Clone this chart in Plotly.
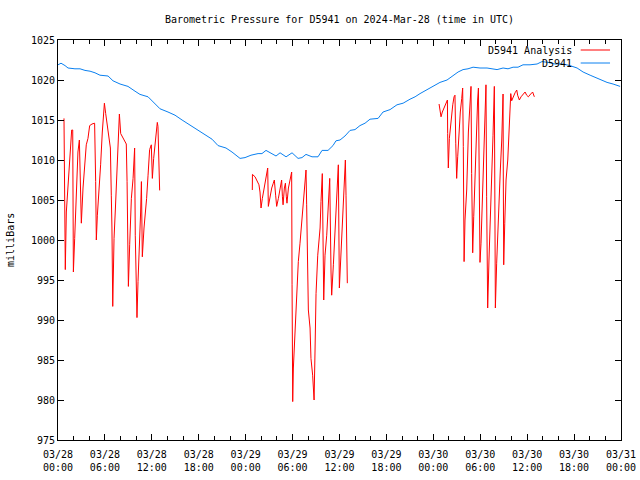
import pandas as pd
import plotly.graph_objects as go

START = "2024-03-28 00:00"

# D5941 (observed) pressure: minutes since start, millibars
obs_minutes = [0, 23, 54, 77, 130, 169, 207, 246, 284, 322, 384, 422, 476, 537, 591, 629,
               691, 744, 783, 844, 898, 952, 998, 1051, 1089, 1128, 1182, 1228, 1289, 1335,
               1397, 1435, 1481, 1535, 1565, 1596, 1635, 1673, 1704, 1750, 1796, 1842, 1872,
               1903, 1949, 1995, 2026, 2072, 2110, 2133, 2164, 2202, 2241, 2279, 2317, 2356,
               2394, 2456, 2494, 2548, 2601, 2648, 2701, 2740, 2778, 2824, 2878, 2931, 2985,
               3031, 3070, 3108, 3146, 3185, 3238, 3292, 3331, 3369, 3415, 3453, 3492, 3530,
               3568, 3622, 3676, 3714, 3760, 3814, 3875, 3929, 3983, 4029, 4083, 4136, 4175,
               4213, 4259, 4313]
obs_values = [1021.9, 1022.1, 1021.8, 1021.5, 1021.4, 1021.4, 1021.2, 1021.1, 1020.9, 1020.6,
              1020.5, 1019.9, 1019.5, 1019.2, 1018.6, 1018.2, 1017.9, 1017.0, 1016.4, 1016.0,
              1015.6, 1015.0, 1014.5, 1014.0, 1013.6, 1013.1, 1012.6, 1011.8, 1011.5, 1011.0,
              1010.2, 1010.3, 1010.6, 1010.8, 1010.8, 1011.2, 1010.8, 1010.5, 1010.9, 1010.4,
              1010.9, 1010.2, 1010.3, 1010.7, 1010.4, 1010.4, 1011.2, 1011.2, 1011.8, 1012.4,
              1012.5, 1013.0, 1013.7, 1013.8, 1014.3, 1014.6, 1015.1, 1015.2, 1016.0, 1016.3,
              1016.9, 1017.1, 1017.6, 1017.9, 1018.3, 1018.7, 1019.2, 1019.7, 1020.0, 1020.5,
              1021.0, 1021.3, 1021.4, 1021.6, 1021.5, 1021.5, 1021.4, 1021.3, 1021.5, 1021.4,
              1021.6, 1021.6, 1021.9, 1021.9, 1022.0, 1022.3, 1022.2, 1022.0, 1022.0, 1021.8,
              1021.5, 1021.0, 1020.6, 1020.2, 1019.9, 1019.7, 1019.5, 1019.2]

# D5941 Analysis, three segments: minutes since start, millibars
ana1_minutes = [46, 51, 56, 64, 77, 90, 97, 105, 113, 118, 128, 141, 153, 164, 174, 179, 192,
                205, 217, 230, 243, 261, 281, 289, 294, 302, 312, 327, 340, 350, 356, 366, 379,
                391, 402, 409, 414, 420, 430, 440, 450, 460, 468, 471, 481, 499, 524, 530, 535,
                540, 550, 563, 576, 583, 588, 593, 601, 606, 614, 622, 634, 640, 647, 660, 670,
                680, 691, 703, 716, 724, 734, 742, 749, 757, 762, 767, 775, 780]
ana1_values = [1015.2, 1005.8, 996.3, 1003.5, 1006.5, 1009.4, 1012.3, 1013.75, 1013.75, 996.0,
               1000.2, 1005.6, 1011.0, 1012.5, 1005.2, 1002.1, 1006.5, 1009.8, 1011.9, 1012.7,
               1014.3, 1014.5, 1014.6, 1007.3, 1000.0, 1003.1, 1005.2, 1009.4, 1013.5, 1015.6,
               1017.1, 1015.8, 1014.0, 1012.9, 1011.5, 1005.6, 1001.5, 991.7, 1000.2, 1003.75,
               1007.7, 1010.6, 1014.0, 1015.75, 1013.3, 1012.7, 1012.0, 1007.3, 998.75, 994.2,
               999.4, 1005.2, 1007.7, 1010.2, 1011.5, 1000.6, 995.6, 990.3, 994.8, 997.7,
               1003.5, 1007.3, 997.9, 1001.5, 1003.1, 1005.2, 1008.1, 1011.3, 1011.9, 1007.7,
               1010.2, 1011.5, 1012.7, 1014.2, 1014.7, 1014.2, 1010.2, 1006.2]

ana2_minutes = [1491, 1492, 1512, 1532, 1542, 1550, 1558, 1568, 1578, 1594, 1601, 1609, 1614,
                1627, 1640, 1652, 1660, 1670, 1678, 1691, 1704, 1716, 1722, 1727, 1737, 1745,
                1752, 1757, 1768, 1778, 1788, 1793, 1796, 1801, 1806, 1814, 1819, 1826, 1834,
                1844, 1857, 1870, 1883, 1895, 1903, 1908, 1913, 1921, 1934, 1941, 1954, 1965,
                1972, 1980, 1993, 2011, 2018, 2028, 2039, 2049, 2062, 2075, 2085, 2095, 2100,
                2113, 2126, 2138, 2151, 2159, 2172, 2184, 2197, 2205, 2210, 2215, 2220]
ana2_values = [1006.25, 1008.2, 1007.9, 1007.3, 1006.9, 1006.0, 1004.0, 1005.2, 1006.25, 1007.7,
               1008.5, 1009.0, 1004.2, 1005.4, 1006.5, 1007.1, 1007.5, 1005.6, 1004.2, 1005.2,
               1006.5, 1007.5, 1005.4, 1004.4, 1006.5, 1007.1, 1005.4, 1004.6, 1006.5, 1007.5,
               1008.3, 1008.5, 994.4, 979.8, 984.0, 986.9, 989.6, 992.5, 995.2, 997.3, 999.6,
               1002.3, 1004.4, 1006.5, 1008.75, 1004.4, 996.5, 991.25, 989.0, 985.2, 983.1,
               980.0, 986.0, 993.3, 998.1, 1001.5, 1004.8, 1008.3, 992.5, 998.1, 1000.6, 1004.4,
               1007.7, 996.0, 993.1, 996.9, 1001.0, 1005.6, 1009.4, 994.0, 998.5, 1002.3,
               1006.0, 1010.0, 1005.6, 998.1, 994.6]

ana3_minutes = [2924, 2931, 2939, 2949, 2965, 2977, 2988, 2990, 2995, 3003, 3016, 3029, 3039,
                3046, 3052, 3059, 3067, 3077, 3087, 3098, 3105, 3110, 3116, 3123, 3136, 3149,
                3159, 3169, 3174, 3182, 3190, 3200, 3210, 3220, 3226, 3233, 3238, 3246, 3256,
                3266, 3277, 3284, 3289, 3297, 3307, 3318, 3328, 3338, 3348, 3353, 3356, 3366,
                3374, 3387, 3394, 3405, 3415, 3417, 3420, 3428, 3438, 3451, 3461, 3469, 3474,
                3481, 3494, 3507, 3520, 3527, 3540, 3553, 3571, 3584, 3596, 3609, 3627, 3642,
                3655]
ana3_values = [1017.0, 1016.25, 1015.4, 1016.0, 1016.7, 1017.1, 1017.5, 1013.3, 1009.0, 1012.7,
               1015.0, 1016.9, 1017.9, 1018.1, 1012.1, 1007.7, 1010.4, 1014.2, 1016.0, 1017.7,
               1019.0, 1011.7, 997.3, 1002.5, 1006.25, 1013.5, 1017.3, 1019.2, 1008.3, 998.4,
               1002.9, 1008.3, 1013.75, 1017.5, 1019.0, 1008.3, 997.2, 999.6, 1004.2, 1010.0,
               1015.0, 1019.4, 1005.4, 991.5, 997.5, 1002.5, 1009.2, 1013.1, 1019.2, 1005.4,
               991.5, 997.1, 1001.0, 1005.0, 1008.75, 1012.5, 1018.25, 1007.5, 996.9, 1002.1,
               1007.5, 1010.0, 1013.75, 1016.9, 1018.3, 1017.4, 1018.0, 1018.4, 1018.75, 1018.1,
               1017.5, 1017.9, 1018.25, 1018.5, 1018.1, 1017.9, 1018.25, 1018.5, 1017.9]

y_ticks = [975, 980, 985, 990, 995, 1000, 1005, 1010, 1015, 1020, 1025]

t0 = pd.Timestamp(START)


def to_time(mins):
    return [t0 + pd.Timedelta(minutes=m) for m in mins]


ana_x, ana_y = [], []
for mins, vals in [(ana1_minutes, ana1_values), (ana2_minutes, ana2_values),
                   (ana3_minutes, ana3_values)]:
    ana_x += to_time(mins) + [None]
    ana_y += vals + [None]

FONT = "DejaVu Sans Mono"
RED = "#ff0000"
BLUE = "#0a80f0"

fig = go.Figure()
fig.add_trace(go.Scatter(x=to_time(obs_minutes), y=obs_values, mode="lines",
                         line=dict(color=BLUE, width=1), name="D5941"))
fig.add_trace(go.Scatter(x=ana_x, y=ana_y, mode="lines", connectgaps=False,
                         line=dict(color=RED, width=1), name="D5941 Analysis"))

# legend (gnuplot style: text right, sample line after it)
for label, color, yp in [("D5941 Analysis", RED, 0.975), ("D5941", BLUE, 0.9425)]:
    fig.add_annotation(x=0.9174, y=yp, xref="paper", yref="paper", text=label,
                       showarrow=False, xanchor="right", yanchor="middle",
                       font=dict(family=FONT, size=10, color="black"))
    fig.add_shape(type="line", xref="paper", yref="paper", x0=0.9284, x1=0.9805,
                  y0=yp, y1=yp, line=dict(color=color, width=1))

fig.add_annotation(x=-0.0853, y=0.5, xref="paper", yref="paper", text="milliBars",
                   showarrow=False, textangle=-90, xanchor="center", yanchor="middle",
                   font=dict(family=FONT, size=10, color="black"))

fig.update_layout(
    width=640, height=480,
    margin=dict(l=58, r=19, t=40, b=40, pad=0, autoexpand=False),
    paper_bgcolor="white", plot_bgcolor="white",
    showlegend=False,
    font=dict(family=FONT, size=10, color="black"),
    title=dict(text="Barometric Pressure for D5941 on 2024-Mar-28 (time in UTC)",
               x=0.5, xref="paper", xanchor="center", y=0.9604, yanchor="middle",
               font=dict(family=FONT, size=10, color="black")),
    xaxis=dict(
        type="date", range=["2024-03-28 00:00", "2024-03-31 00:00"],
        tick0="2024-03-28 00:00", dtick=6 * 3600 * 1000,
        tickformat="%m/%d<br>%H:%M", automargin=False, ticklabelstandoff=5,
        ticks="inside", ticklen=6, tickcolor="black", tickwidth=1,
        minor=dict(ticks="inside", ticklen=4, dtick=2 * 3600 * 1000,
                   tickcolor="black", showgrid=False),
        showline=True, linecolor="black", linewidth=1, mirror="allticks",
        showgrid=False, zeroline=False,
        tickfont=dict(family=FONT, size=10, color="black"),
    ),
    yaxis=dict(
        range=[975, 1025], tickvals=y_ticks, automargin=False,
        ticks="inside", ticklen=6, tickcolor="black", tickwidth=1,
        showline=True, linecolor="black", linewidth=1, mirror="allticks",
        showgrid=False, zeroline=False,
        tickfont=dict(family=FONT, size=10, color="black"),
    ),
)

fig.write_html("out.html", config={"displayModeBar": False},
               post_script="document.body.style.margin='0';document.body.style.overflow='hidden';")
